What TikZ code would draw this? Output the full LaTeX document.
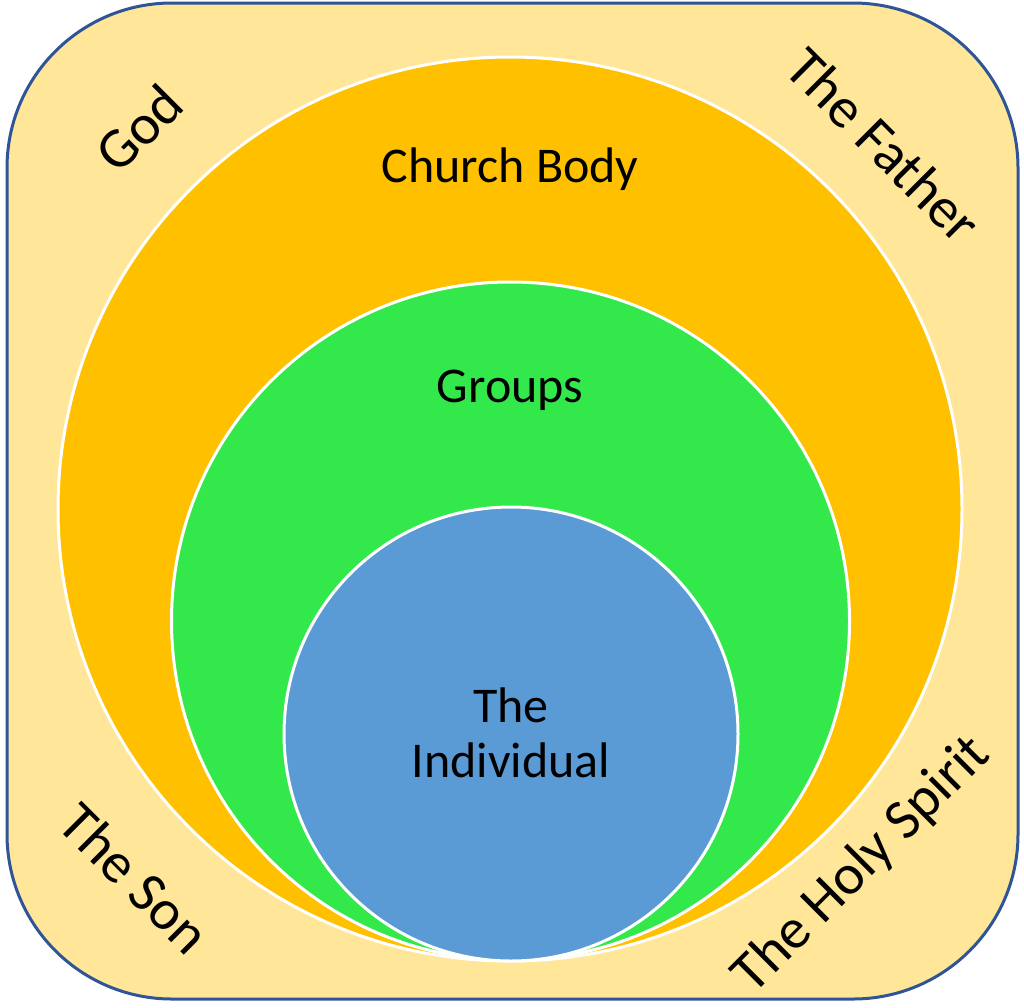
\documentclass[tikz,border=0pt]{standalone}
\usepackage{fontspec}
\setmainfont{Carlito}
\definecolor{bgyellow}{HTML}{FFE699}
\definecolor{borderblue}{HTML}{2F5597}
\definecolor{orangefill}{HTML}{FFC000}
\definecolor{greenfill}{HTML}{33E84B}
\definecolor{bluefill}{HTML}{5B9BD5}
\tikzset{
  ring/.style={draw=white, line width=3pt},
  lbl/.style={font=\fontsize{50}{55}\selectfont, text=black, inner sep=0pt, align=center},
  cornerlbl/.style={font=\fontsize{57}{62}\selectfont, text=black, inner sep=0pt}
}
\begin{document}
\begin{tikzpicture}[x=1pt,y=-1pt]
\useasboundingbox (0,0) rectangle (1024,1007);
\draw[fill=bgyellow, draw=borderblue, line width=3pt, rounded corners=165pt] (7,3) rectangle (1018,999);
\draw[ring, fill=orangefill] (510,509) circle (452);
\draw[ring, fill=greenfill] (510.5,621) circle (339);
\draw[ring, fill=bluefill] (511,734) circle (227);
\node[lbl, anchor=base] (church) at (510,182) {Church Body};
\node[lbl, anchor=base] (groups) at (510,402) {Groups};
\node[lbl] (indiv) at (511,733) {The\\Individual};
\node[cornerlbl, rotate=45] (god) at (139,128) {God};
\node[cornerlbl, rotate=-45] (father) at (884,145) {The Father};
\node[cornerlbl, rotate=-45] (son) at (135,878) {The Son};
\node[cornerlbl, rotate=45] (spirit) at (862,865) {The Holy Spirit};
\end{tikzpicture}
\end{document}
